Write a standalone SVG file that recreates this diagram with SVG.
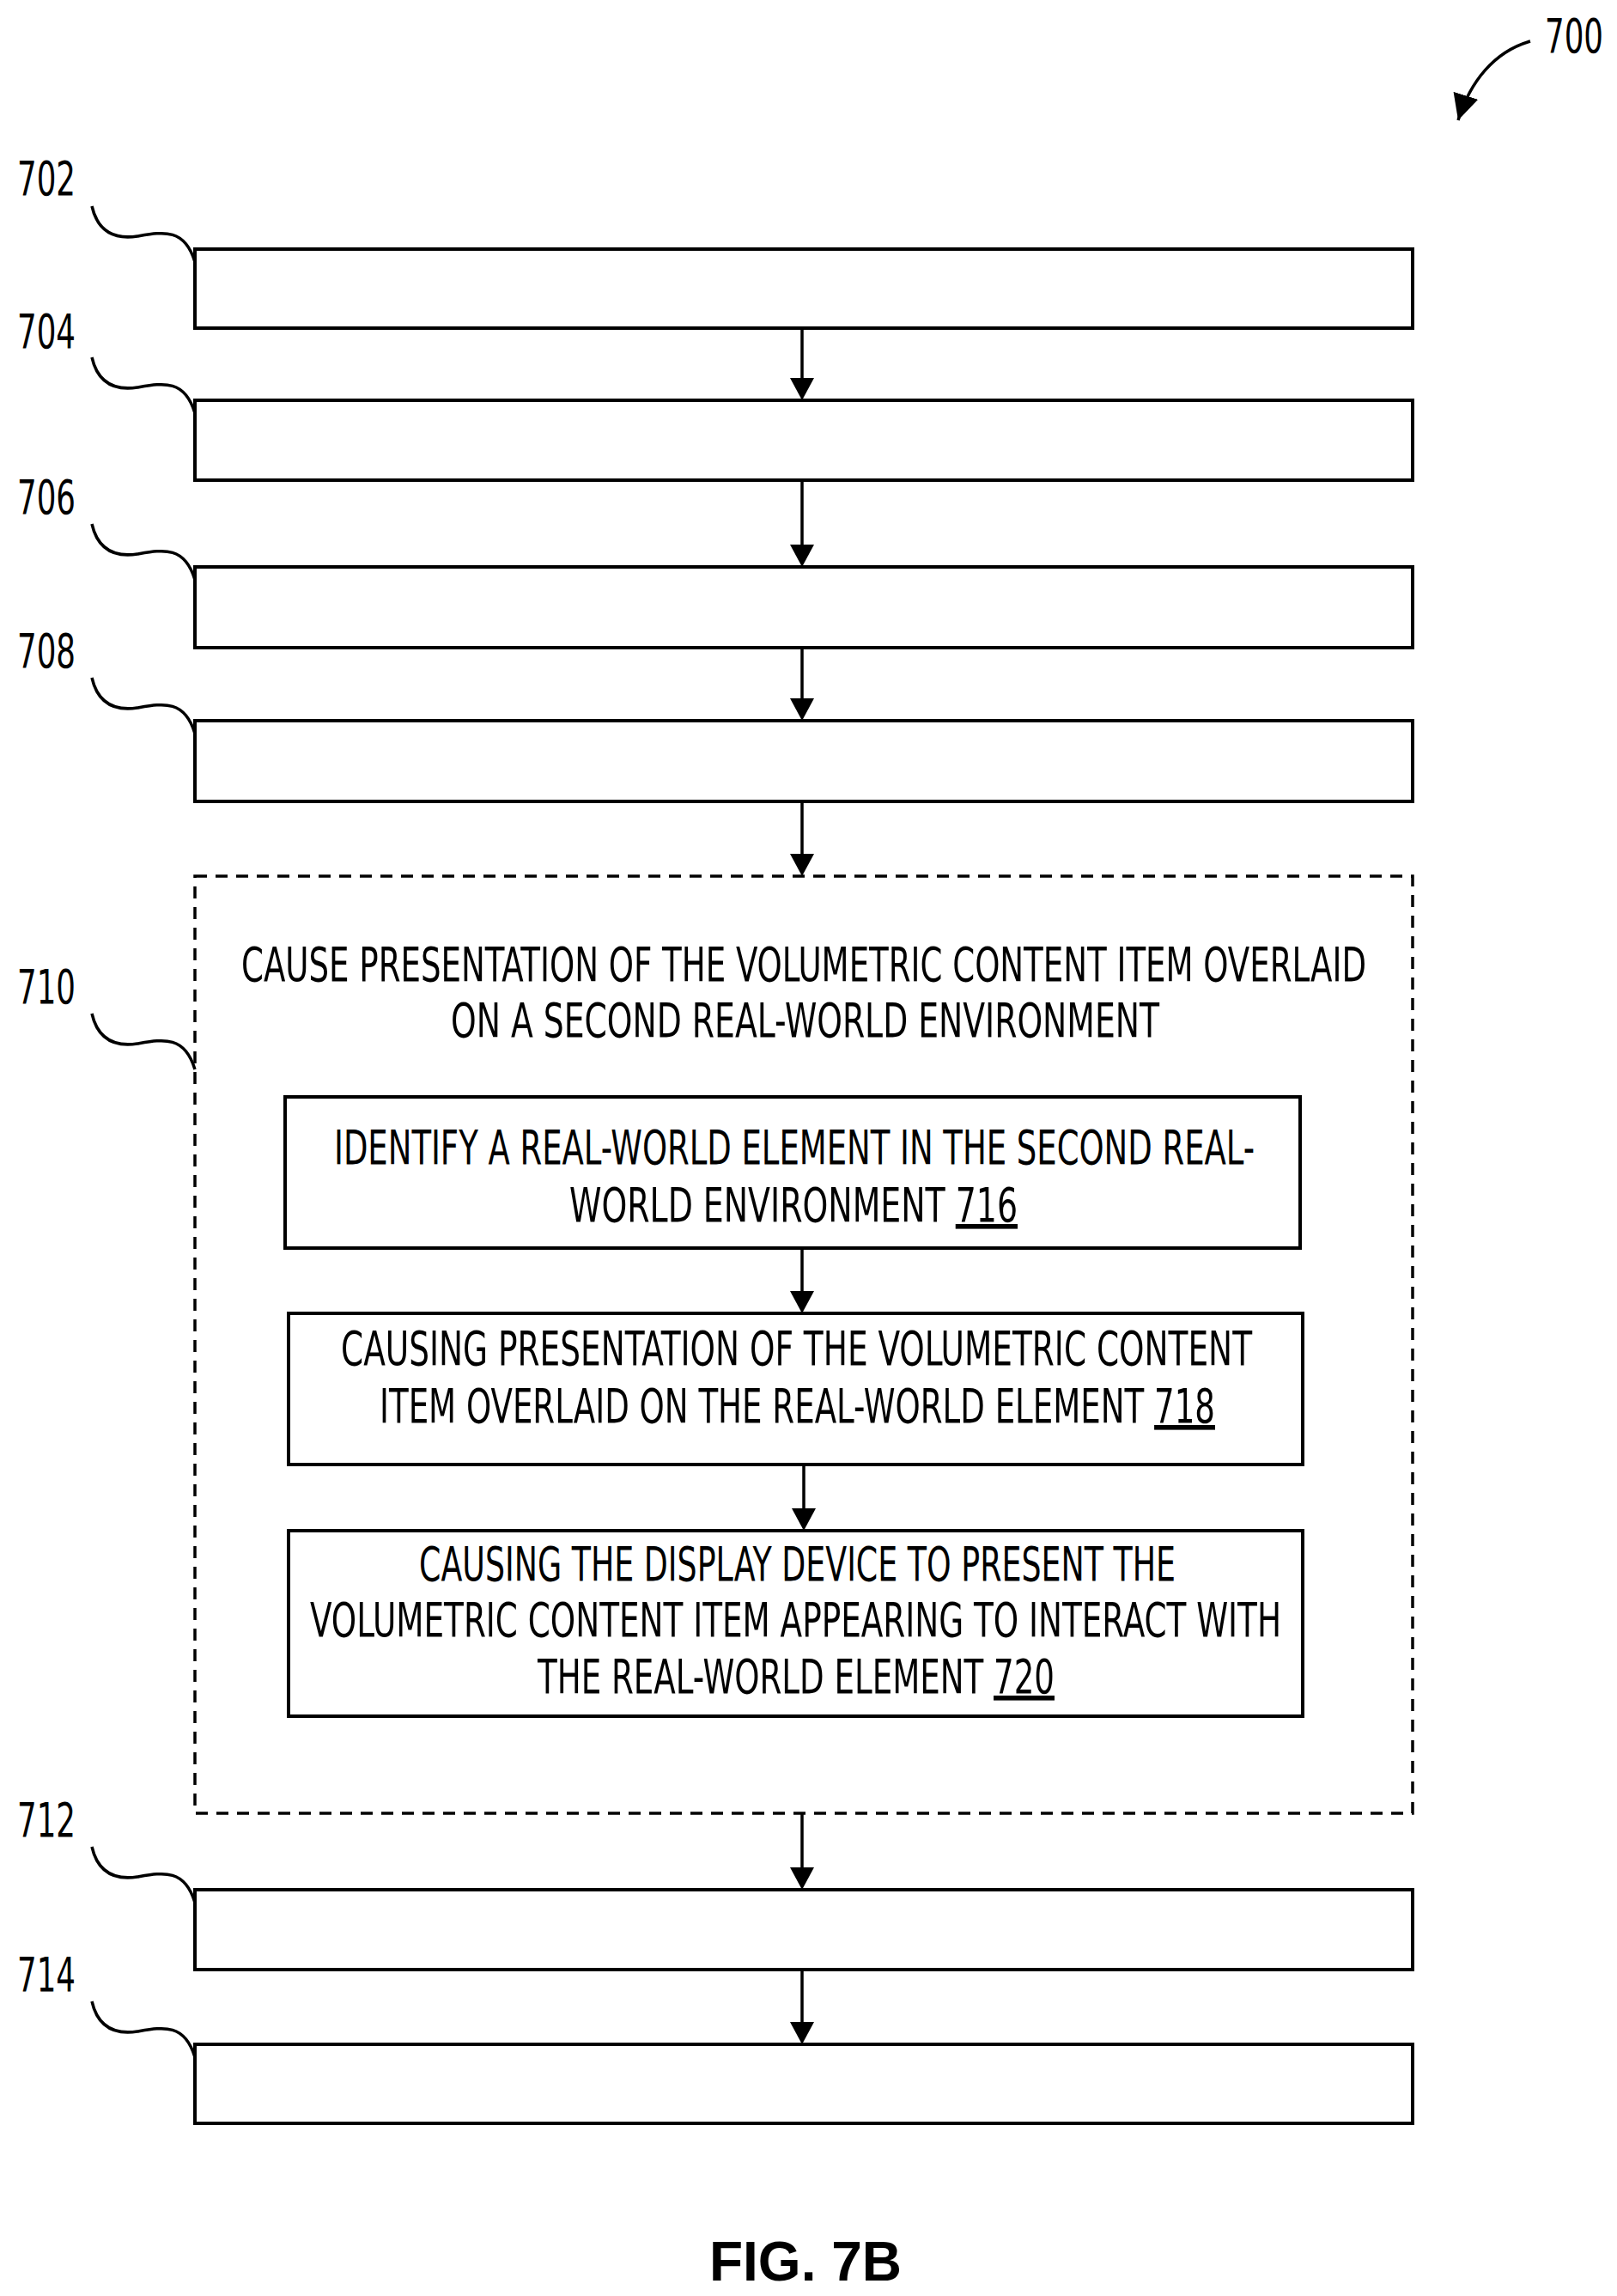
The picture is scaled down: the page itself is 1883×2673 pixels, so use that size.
<svg xmlns="http://www.w3.org/2000/svg" width="1883" height="2673" viewBox="0 0 1883 2673">
<style>
.b{fill:none;stroke:#000;stroke-width:4}
.d{fill:none;stroke:#000;stroke-width:3.5;stroke-dasharray:14 10}
.c{fill:none;stroke:#000;stroke-width:3.5}
.t{font-family:"DejaVu Sans",sans-serif;font-stretch:condensed;font-size:56px;fill:#000}
.l{font-family:"DejaVu Sans",sans-serif;font-stretch:condensed;font-size:56px;fill:#000}
.u{text-decoration:underline}
</style>
<defs>
<marker id="ah" viewBox="0 0 10 10" refX="10" refY="5" markerWidth="30" markerHeight="30" markerUnits="userSpaceOnUse" orient="auto"><path d="M0,0 L10,5 L0,10 z"/></marker>
</defs>
<g id="ref700"><text class="l" x="1799" y="61" textLength="68" lengthAdjust="spacingAndGlyphs">700</text><path class="c" d="M1782,48 C1740,60 1712,95 1698,140" marker-end="url(#ah)"/></g>
<g id="n702"><rect class="b" x="227" y="290" width="1418" height="92"/><text class="l" x="20" y="227" textLength="68" lengthAdjust="spacingAndGlyphs">702</text><path class="c" d="M107,240 C115,275 140,278 160,275 C190,270 215,265 227,305"/></g>
<g id="n704"><rect class="b" x="227" y="466" width="1418" height="93"/><text class="l" x="20" y="405" textLength="68" lengthAdjust="spacingAndGlyphs">704</text><path class="c" d="M107,416 C115,451 140,454 160,451 C190,446 215,441 227,481"/></g>
<g id="n706"><rect class="b" x="227" y="660" width="1418" height="94"/><text class="l" x="20" y="598" textLength="68" lengthAdjust="spacingAndGlyphs">706</text><path class="c" d="M107,610 C115,645 140,648 160,645 C190,640 215,635 227,675"/></g>
<g id="n708"><rect class="b" x="227" y="839" width="1418" height="94"/><text class="l" x="20" y="777" textLength="68" lengthAdjust="spacingAndGlyphs">708</text><path class="c" d="M107,789 C115,824 140,827 160,824 C190,819 215,814 227,854"/></g>
<g id="n710"><rect class="d" x="227" y="1020" width="1418" height="1091"/><text class="l" x="20" y="1168" textLength="68" lengthAdjust="spacingAndGlyphs">710</text><path class="c" d="M107,1180 C115,1215 140,1218 160,1215 C190,1210 215,1205 227,1245"/>
<text class="t" x="281" y="1142" textLength="1310" lengthAdjust="spacingAndGlyphs">CAUSE PRESENTATION OF THE VOLUMETRIC CONTENT ITEM OVERLAID</text>
<text class="t" x="525" y="1207" textLength="825" lengthAdjust="spacingAndGlyphs">ON A SECOND REAL-WORLD ENVIRONMENT</text></g>
<g id="n716"><rect class="b" x="332" y="1277" width="1182" height="176"/>
<text class="t" x="389" y="1355" textLength="1072" lengthAdjust="spacingAndGlyphs">IDENTIFY A REAL-WORLD ELEMENT IN THE SECOND REAL-</text>
<text class="t" x="663" y="1422" textLength="522" lengthAdjust="spacingAndGlyphs">WORLD ENVIRONMENT <tspan class="u">716</tspan></text></g>
<g id="n718"><rect class="b" x="336" y="1529" width="1181" height="176"/>
<text class="t" x="397" y="1589" textLength="1061" lengthAdjust="spacingAndGlyphs">CAUSING PRESENTATION OF THE VOLUMETRIC CONTENT</text>
<text class="t" x="442" y="1656" textLength="973" lengthAdjust="spacingAndGlyphs">ITEM OVERLAID ON THE REAL-WORLD ELEMENT <tspan class="u">718</tspan></text></g>
<g id="n720"><rect class="b" x="336" y="1782" width="1181" height="216"/>
<text class="t" x="488" y="1840" textLength="881" lengthAdjust="spacingAndGlyphs">CAUSING THE DISPLAY DEVICE TO PRESENT THE</text>
<text class="t" x="361" y="1905" textLength="1131" lengthAdjust="spacingAndGlyphs">VOLUMETRIC CONTENT ITEM APPEARING TO INTERACT WITH</text>
<text class="t" x="626" y="1971" textLength="602" lengthAdjust="spacingAndGlyphs">THE REAL-WORLD ELEMENT <tspan class="u">720</tspan></text></g>
<g id="n712"><rect class="b" x="227" y="2200" width="1418" height="93"/><text class="l" x="20" y="2138" textLength="68" lengthAdjust="spacingAndGlyphs">712</text><path class="c" d="M107,2150 C115,2185 140,2188 160,2185 C190,2180 215,2175 227,2215"/></g>
<g id="n714"><rect class="b" x="227" y="2380" width="1418" height="92"/><text class="l" x="20" y="2318" textLength="68" lengthAdjust="spacingAndGlyphs">714</text><path class="c" d="M107,2330 C115,2365 140,2368 160,2365 C190,2360 215,2355 227,2395"/></g>
<g id="connectors" fill="#000">
<line class="c" x1="934" y1="382" x2="934" y2="440"/><path d="M920,440 L948,440 L934,466 z"/>
<line class="c" x1="934" y1="559" x2="934" y2="634"/><path d="M920,634 L948,634 L934,660 z"/>
<line class="c" x1="934" y1="754" x2="934" y2="813"/><path d="M920,813 L948,813 L934,839 z"/>
<line class="c" x1="934" y1="933" x2="934" y2="994"/><path d="M920,994 L948,994 L934,1020 z"/>
<line class="c" x1="934" y1="1453" x2="934" y2="1503"/><path d="M920,1503 L948,1503 L934,1529 z"/>
<line class="c" x1="936" y1="1705" x2="936" y2="1756"/><path d="M922,1756 L950,1756 L936,1782 z"/>
<line class="c" x1="934" y1="2111" x2="934" y2="2174"/><path d="M920,2174 L948,2174 L934,2200 z"/>
<line class="c" x1="934" y1="2293" x2="934" y2="2354"/><path d="M920,2354 L948,2354 L934,2380 z"/>
</g>
<text x="938" y="2655" text-anchor="middle" font-family="Liberation Sans, sans-serif" font-weight="bold" font-size="64">FIG. 7B</text>
</svg>
